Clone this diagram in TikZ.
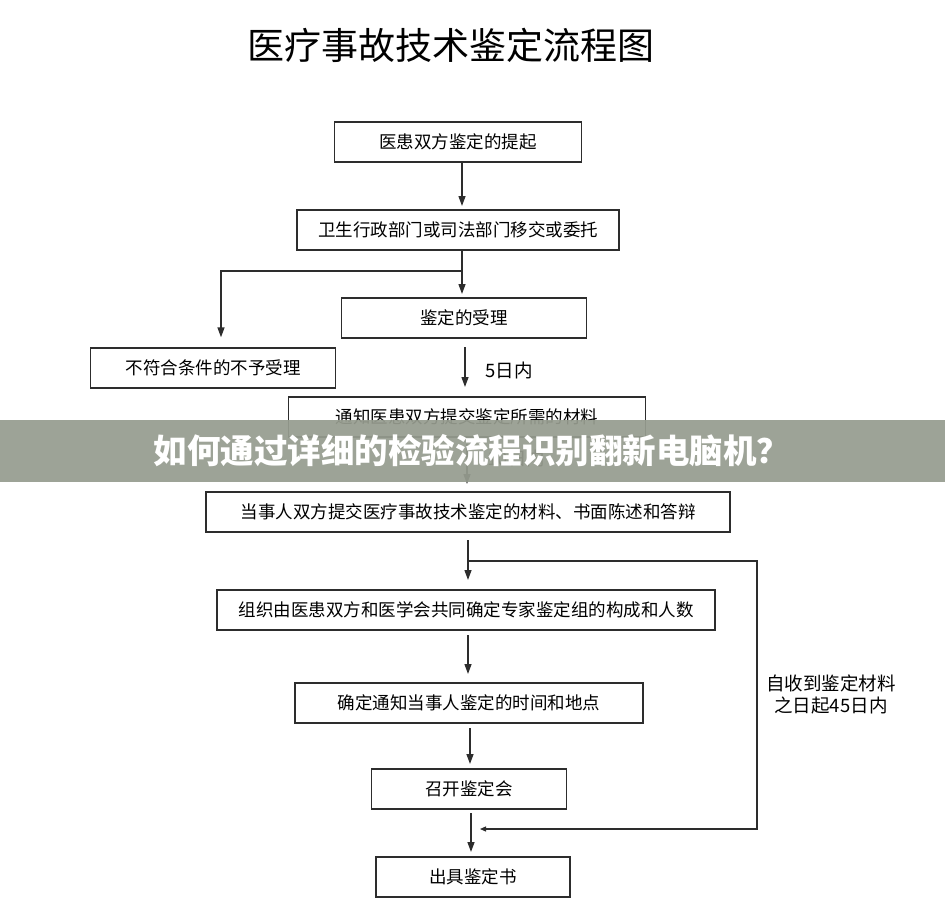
\documentclass[tikz,border=0pt]{standalone}
\usepackage{fontspec}
\newfontfamily\cjk{Noto Sans CJK SC}
\usetikzlibrary{arrows.meta}
\definecolor{bannergray}{RGB}{150,156,143}
\definecolor{linegray}{RGB}{45,45,45}
\begin{document}
\begin{tikzpicture}[x=1pt, y=-1pt,
  box/.style={draw=linegray, line width=1.3pt, minimum height=40pt, inner sep=0pt, font=\cjk\fontsize{17.5}{19}\selectfont},
  arr/.style={draw=linegray, line width=1.3pt, -{Triangle[length=10pt,width=7pt]}},
  thinarr/.style={draw=linegray, line width=1.2pt, -{Triangle[length=6pt,width=5pt]}},
  lbl/.style={font=\cjk\fontsize{18.5}{22}\selectfont, align=center}]
\useasboundingbox (0,0) rectangle (945,902);

\node [font=\cjk\fontsize{37}{42}\selectfont] (title) at (451,45) {医疗事故技术鉴定流程图};

\node [box, minimum width=247pt] (b1) at (458,142) {医患双方鉴定的提起};
\node [box, minimum width=322pt] (b2) at (458,230) {卫生行政部门或司法部门移交或委托};
\node [box, minimum width=245pt] (b3) at (464,318) {鉴定的受理};
\node [box, minimum width=245pt] (b4) at (213,368) {不符合条件的不予受理};
\node [box, minimum width=357pt] (b5) at (467,417) {通知医患双方提交鉴定所需的材料};
\node [box, minimum width=524pt] (b6) at (468,512) {当事人双方提交医疗事故技术鉴定的材料、书面陈述和答辩};
\node [box, minimum width=498pt] (b7) at (466,610) {组织由医患双方和医学会共同确定专家鉴定组的构成和人数};
\node [box, minimum width=348pt] (b8) at (469,703) {确定通知当事人鉴定的时间和地点};
\node [box, minimum width=195pt] (b9) at (469,789) {召开鉴定会};
\node [box, minimum width=194pt] (b10) at (473,877) {出具鉴定书};

\coordinate (j1) at (462,271);
\coordinate (k1) at (221,271);
\coordinate (f1) at (468,561);
\coordinate (f2) at (757,561);
\coordinate (f3) at (757,829);
\coordinate (f4) at (480,829);

\draw [arr, shorten <=1pt, shorten >=4pt] (462,162) -- (462,210);
\draw [arr, shorten >=4pt] (462,250) -- (462,298);
\draw [arr, shorten >=10pt] (j1) -- (k1) -- (k1 |- b4.north);
\draw [arr, shorten <=9pt, shorten >=10pt] (465,338) -- (465,397);
\draw [arr, shorten <=7pt, shorten >=8pt] (467,437) -- (467,492);
\draw [arr, shorten <=8pt, shorten >=10pt] (468,532) -- (468,590);
\draw [thinarr] (f1) -- (f2) -- (f3) -- (f4);
\draw [arr, shorten <=6pt, shorten >=10pt] (468,629) -- (468,684);
\draw [arr, shorten <=5pt, shorten >=5pt] (470,723) -- (470,769);
\draw [arr, shorten <=4pt, shorten >=5pt] (471,809) -- (471,857);

\node [lbl, anchor=west] (d5) at (482,370) {5日内};
\node [lbl, anchor=west] (d10) at (484,458) {10日内};
\node [lbl] (d45) at (831,694) {自收到鉴定材料\\之日起45日内};

% banner over the chart
\fill [bannergray, opacity=0.93] (0,420) rectangle (945,482);
\node [text=white, font=\cjk\bfseries\fontsize{33.5}{36}\selectfont] (banner) at (472,451) {如何通过详细的检验流程识别翻新电脑机？};
\end{tikzpicture}
\end{document}
